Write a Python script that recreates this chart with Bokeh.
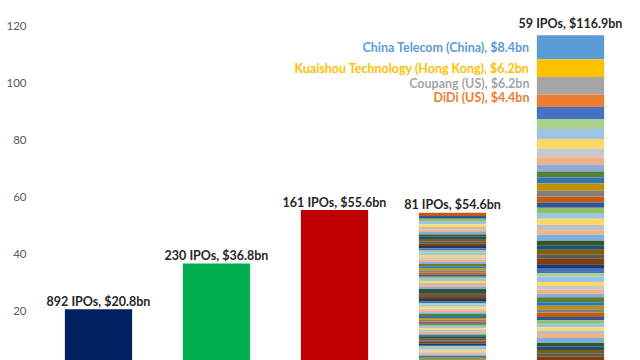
from bokeh.plotting import figure
from bokeh.models import FactorRange, Range1d, FixedTicker, ColumnDataSource
from bokeh.core.properties import value
from bokeh.embed import file_html
from bokeh.resources import INLINE

# ---- data ----
categories = ["G1", "G2", "G3", "G4", "G5"]
ipo_counts = [892, 230, 161, 81, 59]
totals = [20.8, 36.8, 55.6, 54.6, 116.9]
solid_colors = ["#002060", "#00B050", "#C00000"]

# bar 4: 81 deals, listed from the top of the stack downwards
bar4_deals = [1.1, 1.0, 1.0, 0.9, 0.95, 0.9, 0.85, 0.9, 0.8, 0.8,
              0.8, 0.85, 0.8, 0.75, 0.8, 0.8, 0.75, 0.8, 0.8, 0.85,
              0.75, 0.75, 0.7, 0.8, 0.75, 0.75, 0.7, 0.75, 0.75, 0.75,
              0.7, 0.7, 0.65, 0.7, 0.7, 0.75, 0.7, 0.65, 0.7, 0.7,
              0.65, 0.65, 0.7, 0.6, 0.65, 0.65, 0.65, 0.7, 0.65, 0.6,
              0.6, 0.6, 0.65, 0.6, 0.55, 0.6, 0.6, 0.6, 0.6, 0.65,
              0.55, 0.55, 0.6, 0.55, 0.5, 0.55, 0.55, 0.55, 0.55, 0.6,
              0.5, 0.5, 0.5, 0.55, 0.45, 0.45, 0.45, 0.4, 0.4, 0.4, 0.3]

# bar 5: 59 deals, listed from the top of the stack downwards
bar5_named = ["China Telecom (China), $8.4bn",
              "Kuaishou Technology (Hong Kong), $6.2bn",
              "Coupang (US), $6.2bn",
              "DiDi (US), $4.4bn"]
bar5_named_vals = [8.4, 6.2, 6.2, 4.4]
bar5_named_colors = ["#5B9BD5", "#FFC000", "#A5A5A5", "#ED7D31"]
bar5_other = [4.2, 3.5, 3.5, 3.2, 3.2, 2.5, 2.5, 2.1, 2.1, 2.5, 2.1,
              2.1, 1.8, 2.1, 1.8, 2.1, 2.0, 1.5, 2.1, 1.6, 1.5, 1.8, 1.4,
              1.9, 1.6, 1.5, 1.2,
              2.0, 1.4, 1.3, 1.4, 1.2, 1.8, 1.2, 1.2, 1.2, 1.5, 1.2, 1.2,
              1.2, 1.2, 1.2, 1.4, 1.8, 1.2, 1.2, 1.2, 1.2, 1.2, 0.8, 0.9,
              0.4, 0.3, 0.3, 0.2]

palette = ["#4472C4", "#A9D18E", "#9DC3E6", "#FFD966", "#C9C9C9", "#F4B183",
           "#8FAADC", "#548235", "#2E75B6", "#BF9000", "#7F7F7F", "#C55A11",
           "#2F5597", "#8CC168", "#9DC3E6", "#FFD966", "#BFBFBF", "#F4B183",
           "#7CAFDD", "#375623", "#1F4E79", "#7F6000", "#595959", "#843C0C",
           "#203864"]

FONT = "Lato"

p = figure(width=632, height=360, output_backend="svg", toolbar_location=None,
           x_range=FactorRange(*categories), y_range=Range1d(2.8, 125.6),
           min_border_left=39, min_border_right=3, min_border_top=10,
           min_border_bottom=0)
p.outline_line_color = None
p.xgrid.visible = False
p.ygrid.visible = False
p.xaxis.visible = False
p.background_fill_color = "white"

yax = p.yaxis[0]
yax.ticker = FixedTicker(ticks=[0, 20, 40, 60, 80, 100, 120])
yax.axis_line_color = None
yax.major_tick_line_color = None
yax.minor_tick_line_color = None
yax.major_label_text_color = "#595959"
yax.major_label_text_font = FONT
yax.major_label_text_font_size = "11.5px"
yax.major_label_standoff = 7

W = 0.57

# solid bars
p.vbar(x=categories[:3], top=totals[:3], width=W, color=solid_colors, line_color=None)

# stacked bars
def stack(cat, vals, colors):
    xs, bots, tops, cols = [], [], [], []
    top = sum(vals)
    for i, v in enumerate(vals):
        xs.append(cat)
        tops.append(top)
        bots.append(top - v)
        cols.append(colors[i % len(colors)])
        top -= v
    return xs, bots, tops, cols

x4, b4, t4, c4 = stack(categories[3], bar4_deals, palette[11:] + palette[:11])
x5, b5, t5, c5 = stack(categories[4], bar5_named_vals + bar5_other,
                       bar5_named_colors + palette * 3)
src = ColumnDataSource(dict(x=x4 + x5, bottom=b4 + b5, top=t4 + t5, color=c4 + c5))
p.vbar(x="x", bottom="bottom", top="top", width=W, color="color", line_color=None,
       source=src)

# value labels
labels = [f"{n} IPOs, ${t}bn" for n, t in zip(ipo_counts, totals)]
p.text(x=categories[:4], y=totals[:4], text=labels[:4], text_align="center",
       text_baseline="alphabetic", y_offset=-8, text_font=value(FONT),
       text_font_style="bold", text_font_size="12.5px", text_color="#262626")
p.text(x=categories[4:], y=totals[4:], text=labels[4:], text_align="center",
       text_baseline="alphabetic", y_offset=-12, text_font=value(FONT),
       text_font_style="bold", text_font_size="12.5px", text_color="#262626")

# named deals in the last bar
mids = [t - v / 2 for t, v in zip(t5[:4], bar5_named_vals)]
p.text(x=[categories[4]] * 4, y=mids, text=bar5_named, text_align="right",
       text_baseline="middle", x_offset=-41, y_offset=[0, 0, -2, -3],
       text_font=value(FONT), text_font_style="bold", text_font_size="12.5px",
       text_color=bar5_named_colors)

open("out.html", "w").write(file_html(p, INLINE))
